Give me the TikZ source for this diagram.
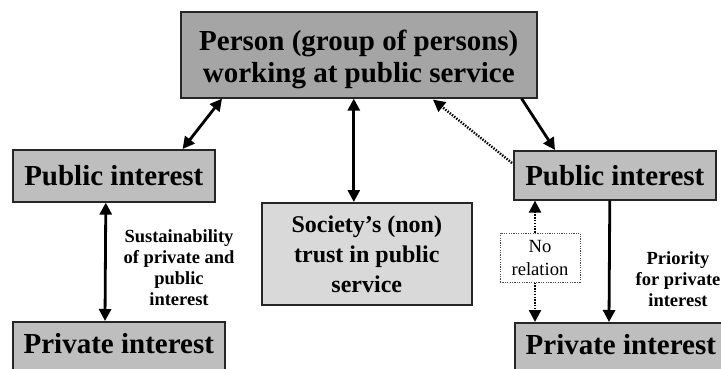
\documentclass[tikz,border=0pt]{standalone}
\usepackage{fontspec}
\setmainfont{Liberation Serif}
\usetikzlibrary{arrows.meta,calc}

\definecolor{boxdark}{HTML}{A5A5A5}
\definecolor{boxmid}{HTML}{BEBEBE}
\definecolor{boxlight}{HTML}{D9D9D9}

\tikzset{
  x=1pt, y=-1pt,
  box/.style={draw=black!85, line width=1.6pt, inner sep=0pt, anchor=north west,
              align=center, font=\bfseries},
  bigtext/.style={font=\fontsize{29}{32}\selectfont\bfseries},
  midtext/.style={font=\fontsize{24}{30}\selectfont\bfseries},
  sidetext/.style={font=\fontsize{18.5}{21}\selectfont\bfseries, align=center, inner sep=0pt},
  link/.style={line width=2.8pt, black},
  dotlink/.style={line width=2.4pt, black, dash pattern=on 1.4pt off 1.4pt},
  tip/.style={-{Triangle[length=12pt,width=12pt]}},
  tips/.style={{Triangle[length=12pt,width=12pt]}-{Triangle[length=12pt,width=12pt]}},
}

\begin{document}
\begin{tikzpicture}
\useasboundingbox (0,0) rectangle (721,369);
\clip (0,0) rectangle (721,369);

% boxes
\node[box, bigtext, fill=boxdark, minimum width=356pt, minimum height=86pt,
      text height=62pt, text depth=6pt] (top) at (180,11)
  {Person (group of persons)\\working at public service};
\node[box, bigtext, fill=boxmid, minimum width=202pt, minimum height=52pt] (lpub) at (12,149) {Public interest};
\node[box, bigtext, fill=boxmid, minimum width=212pt, minimum height=52pt, text depth=8pt] (lpriv) at (12,321) {Private interest};
\node[box, bigtext, fill=boxmid, minimum width=202pt, minimum height=49pt] (rpub) at (513,150) {Public interest};
\node[box, bigtext, fill=boxmid, minimum width=212pt, minimum height=52pt, text depth=8pt] (rpriv) at (514,322) {Private interest};
\node[box, midtext, fill=boxlight, minimum width=210pt, minimum height=102pt] (mid) at (261,202)
  {Society’s (non)\\trust in public\\service};

% side labels
\node[sidetext] (sust) at (179,268) {Sustainability\\of private and\\public\\interest};
\node[sidetext] (prio) at (678,279) {Priority\\for private\\interest};
\node[draw=black!70, line width=1pt, dash pattern=on 1.2pt off 1.2pt, fill=white,
      minimum width=80pt, minimum height=49pt, inner sep=0pt, align=center,
      font=\fontsize{18.6}{23}\selectfont] (nr) at (540,257.5) {No\\relation};

% connectors
\draw[link, tips] ($(top.south west)+(42,0)$) -- ($(lpub.north east)+(-33,0)$);
\draw[link, tips] ($(top.south)+(-5,0)$) -- ($(mid.north)+(-13,0)$);
\draw[link, tip] ($(top.south east)+(-16,0)$) -- ($(rpub.north west)+(42,0)$);
\draw[dotlink, tip] ($(rpub.north west)+(-1,13)$) -- ($(top.south west)+(253,1)$);
\draw[link, tips] ($(lpub.south)+(-8,0)$) -- ($(lpriv.north west)+(93,0)$);
\draw[dotlink, tip] ($(nr.north)+(-5,0)$) -- ($(rpub.south west)+(22,0)$);
\draw[dotlink, tip] ($(nr.south)+(-5,0)$) -- ($(rpriv.north west)+(21,0)$);
\draw[link, tip] ($(rpub.south)+(-5,0)$) -- ($(rpriv.north west)+(95,0)$);
\end{tikzpicture}
\end{document}
